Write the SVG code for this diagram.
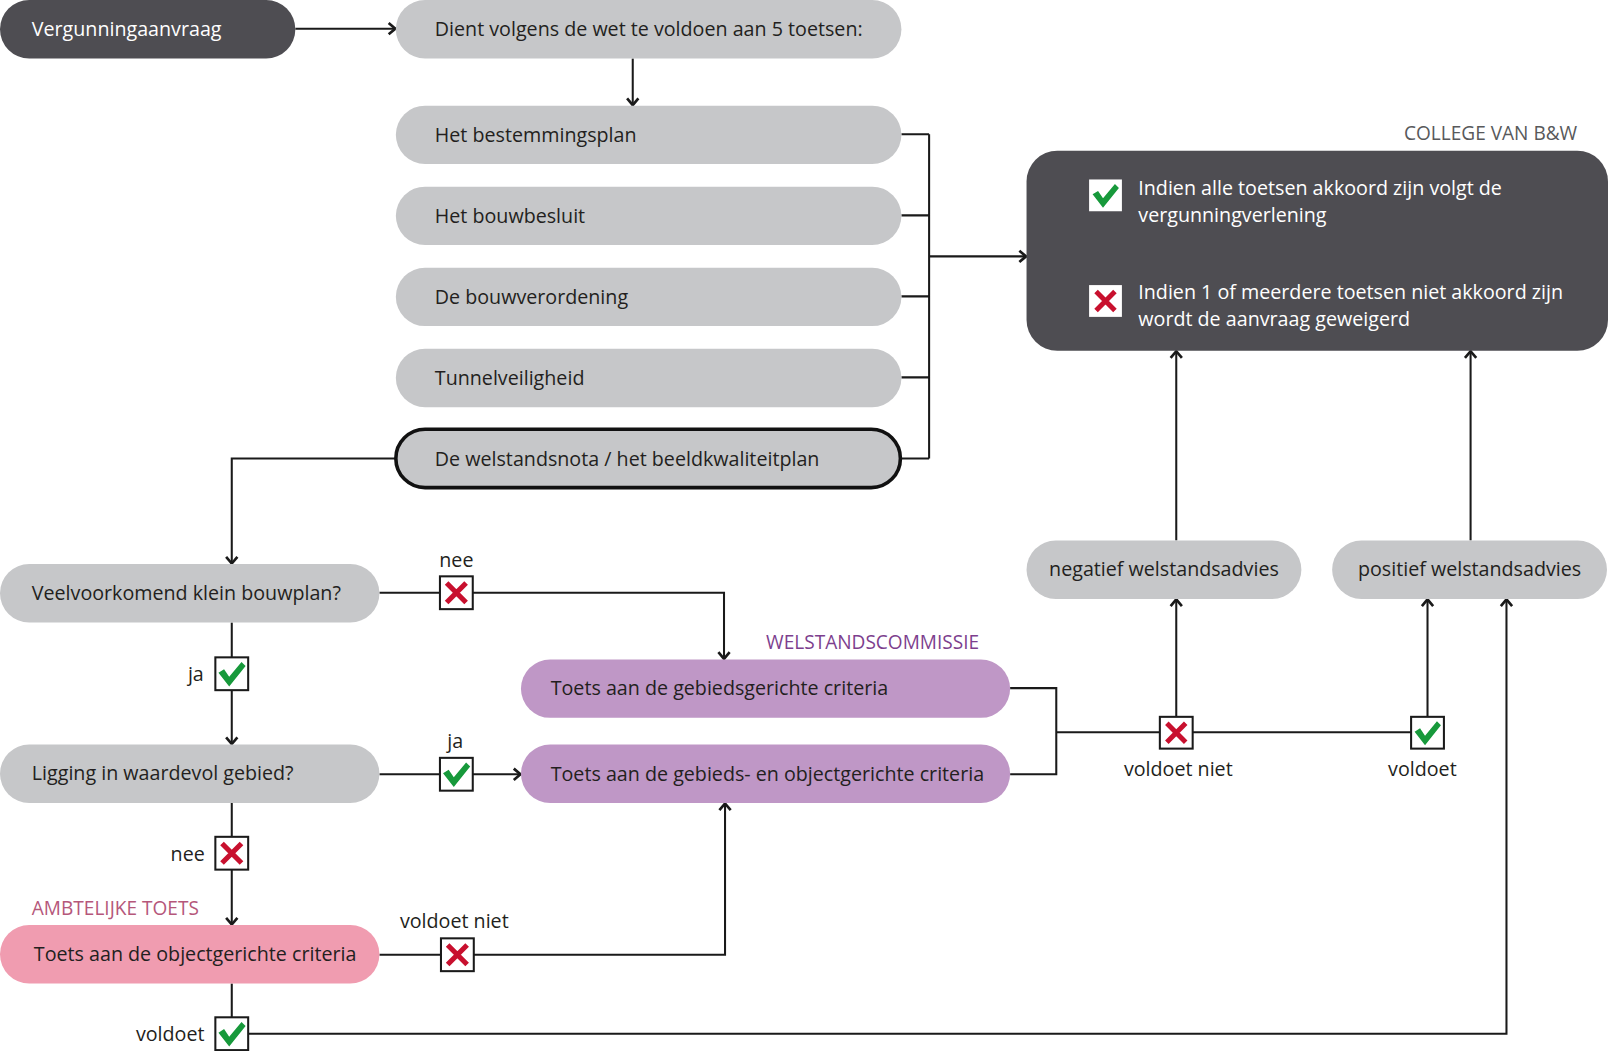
<svg xmlns="http://www.w3.org/2000/svg" xmlns:xlink="http://www.w3.org/1999/xlink" width="1608" height="1051" viewBox="0 0 1608 1051">
<style>
text{font-family:"Open Sans","Noto Sans","Liberation Sans",sans-serif;font-size:19.2px;fill:#231f20}
.w{fill:#ffffff}
.dark{fill:#4e4d52}
.grey{fill:#c6c7c9}
.purple{fill:#bf97c6}
.pink{fill:#f09cb0}
.ln{fill:none;stroke:#1a1a1a;stroke-width:2}
.arr{marker-end:url(#ah)}
.box{fill:#ffffff;stroke:#1a1a1a;stroke-width:2}
.cap{font-size:18.6px}
</style>
<defs>
<marker id="ah" viewBox="0 0 14 14" refX="11.5" refY="7" markerWidth="14" markerHeight="14" markerUnits="userSpaceOnUse" orient="auto">
<path d="M4.5,1.5 L11,7 L4.5,12.5" fill="none" stroke="#1a1a1a" stroke-width="2.6"/>
</marker>
<symbol id="chk" viewBox="0 0 32 32">
<polygon points="3,15 8.5,11.5 13.5,19 25.5,4.5 29.5,8.5 13.5,28.5" fill="#17993b"/>
</symbol>
<symbol id="crs" viewBox="0 0 32 32">
<path d="M6.5,6.5 L25.5,25.5 M25.5,6.5 L6.5,25.5" stroke="#c8102e" stroke-width="5" fill="none"/>
</symbol>
</defs>

<g transform="scale(1.02551)">
<g id="connectors">
<path class="ln arr" d="M288,28 H386"/>
<path class="ln arr" d="M617,57 V103"/>
<path class="ln" d="M879,131 H906 M879,210 H906 M879,289 H906 M879,368 H906 M879,447 H906 M906,131 V447"/>
<path class="ln arr" d="M906,250 H1001"/>
<path class="ln arr" d="M386,447 H226 V550"/>
<path class="ln arr" d="M370,578 H706 V643"/>
<path class="ln arr" d="M226,607 V726"/>
<path class="ln arr" d="M370,755 H508"/>
<path class="ln arr" d="M226,783 V902"/>
<path class="ln arr" d="M370,931 H707 V783"/>
<path class="ln arr" d="M226,959 V1008 H1469 V584"/>
<path class="ln" d="M985,671 H1030 V755 H985 M1030,714 H1392"/>
<path class="ln arr" d="M1147,699 V584"/>
<path class="ln arr" d="M1392,699 V584"/>
<path class="ln arr" d="M1147,527 V342"/>
<path class="ln arr" d="M1434,527 V342"/>
</g>

<g id="n-aanvraag">
<rect class="dark" x="0" y="0" width="288" height="57" rx="28.5"/>
<text class="w" x="31" y="35">Vergunningaanvraag</text>
</g>
<g id="n-dient">
<rect class="grey" x="386" y="0" width="493" height="57" rx="28.5"/>
<text x="424" y="35">Dient volgens de wet te voldoen aan 5 toetsen:</text>
</g>
<g id="n-bestemmingsplan">
<rect class="grey" x="386" y="103" width="493" height="57" rx="28.5"/>
<text x="424" y="138">Het bestemmingsplan</text>
</g>
<g id="n-bouwbesluit">
<rect class="grey" x="386" y="182" width="493" height="57" rx="28.5"/>
<text x="424" y="217">Het bouwbesluit</text>
</g>
<g id="n-bouwverordening">
<rect class="grey" x="386" y="261" width="493" height="57" rx="28.5"/>
<text x="424" y="296">De bouwverordening</text>
</g>
<g id="n-tunnel">
<rect class="grey" x="386" y="340" width="493" height="57" rx="28.5"/>
<text x="424" y="375">Tunnelveiligheid</text>
</g>
<g id="n-welstandsnota">
<rect class="grey" x="386" y="418.5" width="492" height="57" rx="28.5" stroke="#111" stroke-width="3.5"/>
<text x="424" y="454">De welstandsnota / het beeldkwaliteitplan</text>
</g>

<g id="n-college">
<text x="1538" y="137" text-anchor="end" class="cap" style="fill:#58595b">COLLEGE VAN B&amp;W</text>
<rect class="dark" x="1001" y="147" width="567" height="195" rx="30"/>
<rect x="1062" y="175" width="32" height="31" fill="#fff"/>
<use xlink:href="#chk" x="1062" y="175" width="32" height="31"/>
<text class="w" x="1110" y="190">Indien alle toetsen akkoord zijn volgt de</text>
<text class="w" x="1110" y="216">vergunningverlening</text>
<rect x="1062" y="278" width="32" height="31" fill="#fff"/>
<use xlink:href="#crs" x="1062" y="278" width="32" height="31"/>
<text class="w" x="1110" y="292">Indien 1 of meerdere toetsen niet akkoord zijn</text>
<text class="w" x="1110" y="318">wordt de aanvraag geweigerd</text>
</g>

<g id="n-negatief">
<rect class="grey" x="1001" y="527" width="268" height="57" rx="28.5"/>
<text x="1135" y="562" text-anchor="middle">negatief welstandsadvies</text>
</g>
<g id="n-positief">
<rect class="grey" x="1299" y="527" width="268" height="57" rx="28.5"/>
<text x="1433" y="562" text-anchor="middle">positief welstandsadvies</text>
</g>

<g id="n-veelvoorkomend">
<rect class="grey" x="0" y="550" width="370" height="57" rx="28.5"/>
<text x="31" y="585">Veelvoorkomend klein bouwplan?</text>
</g>
<g id="n-ligging">
<rect class="grey" x="0" y="726" width="370" height="57" rx="28.5"/>
<text x="31" y="761">Ligging in waardevol gebied?</text>
</g>
<g id="n-objectgericht">
<text x="31" y="892" class="cap" style="fill:#b5577a">AMBTELIJKE TOETS</text>
<rect class="pink" x="0" y="902" width="370" height="57" rx="28.5"/>
<text x="33" y="937">Toets aan de objectgerichte criteria</text>
</g>
<g id="n-gebiedsgericht">
<text x="747" y="633" class="cap" style="fill:#7d3f8e">WELSTANDSCOMMISSIE</text>
<rect class="purple" x="508" y="643" width="477" height="57" rx="28.5"/>
<text x="537" y="678">Toets aan de gebiedsgerichte criteria</text>
</g>
<g id="n-gebieds-object">
<rect class="purple" x="508" y="726" width="477" height="57" rx="28.5"/>
<text x="537" y="762">Toets aan de gebieds- en objectgerichte criteria</text>
</g>

<g id="labels">
<text x="445" y="553" text-anchor="middle">nee</text>
<rect class="box" x="429" y="562" width="32" height="32"/><use xlink:href="#crs" x="429" y="562" width="32" height="32"/>
<text x="191" y="664" text-anchor="middle">ja</text>
<rect class="box" x="210" y="641" width="32" height="32"/><use xlink:href="#chk" x="210" y="641" width="32" height="32"/>
<text x="444" y="729" text-anchor="middle">ja</text>
<rect class="box" x="429" y="739" width="32" height="32"/><use xlink:href="#chk" x="429" y="739" width="32" height="32"/>
<text x="183" y="840" text-anchor="middle">nee</text>
<rect class="box" x="210" y="816" width="32" height="32"/><use xlink:href="#crs" x="210" y="816" width="32" height="32"/>
<text x="443" y="905" text-anchor="middle">voldoet niet</text>
<rect class="box" x="430" y="915" width="32" height="32"/><use xlink:href="#crs" x="430" y="915" width="32" height="32"/>
<text x="166" y="1015" text-anchor="middle">voldoet</text>
<rect class="box" x="210" y="992" width="32" height="32"/><use xlink:href="#chk" x="210" y="992" width="32" height="32"/>
<rect class="box" x="1131" y="699" width="32" height="31"/><use xlink:href="#crs" x="1131" y="699" width="32" height="31"/>
<text x="1149" y="757" text-anchor="middle">voldoet niet</text>
<rect class="box" x="1376" y="699" width="32" height="31"/><use xlink:href="#chk" x="1376" y="699" width="32" height="31"/>
<text x="1387" y="757" text-anchor="middle">voldoet</text>
</g>
</g>
</svg>
